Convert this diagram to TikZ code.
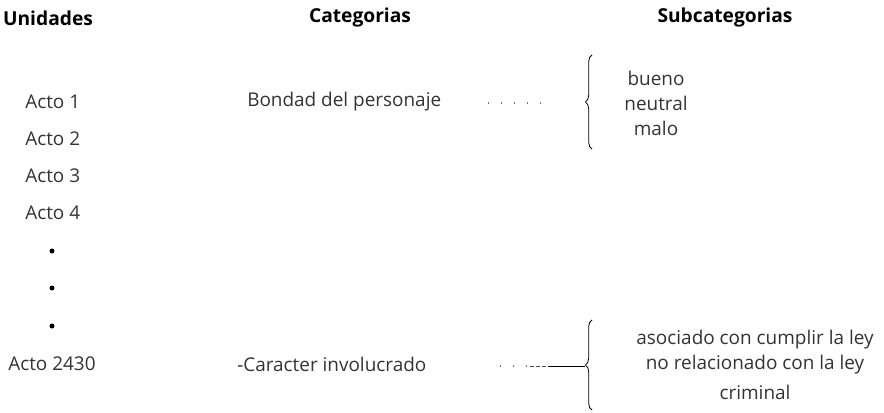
\documentclass[tikz,border=0pt]{standalone}
\usepackage{fontspec}
\setmainfont{Open Sans}
\usetikzlibrary{decorations.pathreplacing}
\tikzset{
  txt/.style={inner sep=0pt, font=\fontsize{14.2}{17}\selectfont, text=black!80},
  head/.style={inner sep=0pt, font=\fontsize{14.4}{17}\selectfont\bfseries},
  bigbrace/.style={decorate, decoration={brace, amplitude=5pt, aspect=0.5}, line width=0.6pt},
  dotline/.style={line width=0.8pt, dash pattern=on 0.8pt off 9pt, black!55},
  dashline/.style={line width=0.6pt, dash pattern=on 3pt off 1.5pt, black!70},
  solidline/.style={line width=0.6pt}
}
\begin{document}
\begin{tikzpicture}[x=0.75pt,y=-0.75pt]
\useasboundingbox (0,0) rectangle (884,413);
% headers
\node[head] (hU) at (48,18) {Unidades};
\node[head] (hC) at (360,18) {Categorias};
\node[head] (hS) at (725,18) {Subcategorias};
% units
\node[txt, anchor=west] (a1) at (25,102) {Acto 1};
\node[txt, anchor=west] (a2) at (25,139) {Acto 2};
\node[txt, anchor=west] (a3) at (25,176) {Acto 3};
\node[txt, anchor=west] (a4) at (25,213) {Acto 4};
\fill (52,251) circle (2.5);
\fill (52,288) circle (2.5);
\fill (52,326) circle (2.5);
\node[txt, anchor=west] (a5) at (8,364) {Acto 2430};
% categories
\node[txt, anchor=west] (c1) at (247,102) {Bondad del personaje};
\node[txt, anchor=west] (c2) at (237,364) {-Caracter involucrado};
% top brace
\coordinate (b1s) at (592,149);
\coordinate (b1e) at (592,55);
\draw[bigbrace] (b1s) -- (b1e);
\coordinate (d1a) at (488,103);
\coordinate (d1b) at (545,103);
\draw[dotline] (d1a) -- (d1b);
% subcats top
\node[txt] (s1) at (656,78) {bueno};
\node[txt] (s2) at (656,103) {neutral};
\node[txt] (s3) at (656,128) {malo};
% bottom brace
\coordinate (b2s) at (592,410);
\coordinate (b2e) at (592,320);
\coordinate (b2tip) at (585,366);
\draw[bigbrace] (b2s) -- (b2e);
\coordinate (d2a) at (500,366);
\coordinate (d2b) at (530,366);
\coordinate (d2c) at (548,366);
\draw[dotline] (d2a) -- (d2b);
\draw[dashline] (d2b) -- (d2c);
\draw[solidline] (d2c) -- (b2tip);
% subcats bottom
\node[txt] (t1) at (755,340) {asociado con cumplir la ley};
\node[txt] (t2) at (755,365) {no relacionado con la ley};
\node[txt] (t3) at (755,392) {criminal};
\end{tikzpicture}
\end{document}
